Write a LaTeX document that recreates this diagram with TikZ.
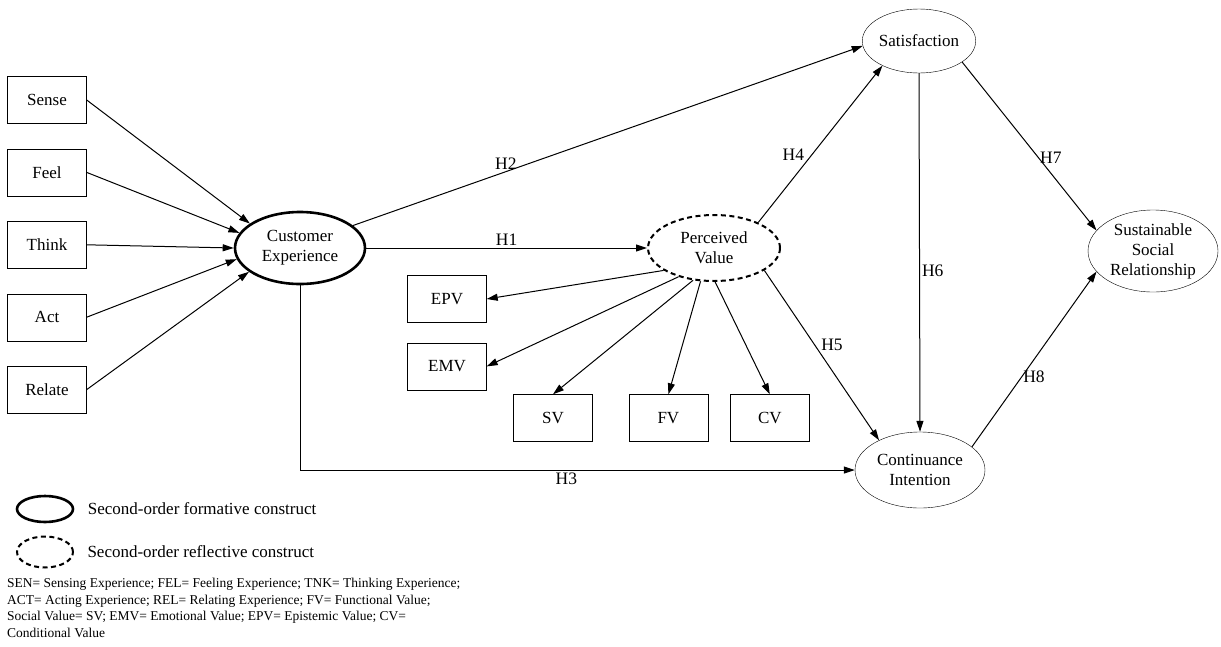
\documentclass[tikz,border=0pt]{standalone}
\usepackage{fontspec}
\setmainfont{Liberation Serif}
\usetikzlibrary{shapes.geometric, arrows.meta, positioning}

\begin{document}
\begin{tikzpicture}[
    x=1pt, y=-1pt,
    node distance=25pt,
    box/.style={rectangle, draw, minimum width=79pt, minimum height=47pt, inner sep=0pt, font=\fontsize{17}{20}\selectfont},
    latent/.style={ellipse, draw, inner sep=0pt, align=center, font=\fontsize{17}{20}\selectfont},
    formative/.style={latent, line width=2.6pt},
    reflective/.style={latent, line width=2pt, dash pattern=on 5pt off 3.5pt},
    arrow/.style={-{Triangle[length=11pt,width=7pt]}, line width=1pt},
    hyp/.style={font=\fontsize{17.5}{20}\selectfont, inner sep=2pt}
  ]
  \useasboundingbox (0,0) rectangle (1221,646);

  % experience dimensions
  \node[box] (sense) at (47,100) {Sense};
  \node[box, below=of sense] (feel) {Feel};
  \node[box, below=of feel] (think) {Think};
  \node[box, below=of think] (act) {Act};
  \node[box, below=of act] (relate) {Relate};

  % constructs
  \node[formative, minimum width=130pt, minimum height=72pt] (ce) at (300,248) {Customer\\Experience};
  \node[reflective, minimum width=132pt, minimum height=66pt] (pv) at (714,248) {Perceived\\Value};
  \node[latent, minimum width=112pt, minimum height=64pt] (sat) at (919,41) {Satisfaction};
  \node[latent, minimum width=130pt, minimum height=76pt] (ci) at (920,470) {Continuance\\Intention};
  \node[latent, minimum width=130pt, minimum height=82pt] (ssr) at (1153,251) {Sustainable\\Social\\Relationship};

  % value dimensions
  \node[box] (epv) at (447,299) {EPV};
  \node[box, below=20pt of epv] (emv) {EMV};
  \node[box] (sv) at (553,418) {SV};
  \node[box, right=36pt of sv] (fv) {FV};
  \node[box, right=22pt of fv] (cv) {CV};

  \draw[arrow] (sense.east) -- (ce.154);
  \draw[arrow] (feel.east) -- (ce.166);
  \draw[arrow] (think.east) -- (ce.180);
  \draw[arrow] (act.east) -- (ce.190);
  \draw[arrow] (relate.east) -- (ce.205);

  \draw[arrow] (pv.204) -- (epv.east);
  \draw[arrow] (pv.219) -- (emv.east);
  \draw[arrow] (pv.237) -- (sv.north);
  \draw[arrow] (pv.248) -- (fv.north);
  \draw[arrow] (pv.272) -- (cv.north);

  % hypotheses
  \draw[arrow] (ce.east) -- node[hyp, above] {H1} (pv.west);
  \draw[arrow] (ce.23) -- node[hyp, pos=0.3, above] {H2} (sat.185);
  \draw[arrow] (ce.south) |- node[hyp, pos=0.74, below] {H3} (ci.west);
  \draw[arrow] (pv.30) -- node[hyp, pos=0.43, left=5pt] {H4} (sat.214);
  \draw[arrow] (pv.336) -- node[hyp, pos=0.44, right=4pt] {H5} (ci.144);
  \draw[arrow] (sat.south) -- node[hyp, pos=0.55, right] {H6} (ci.north);
  \draw[arrow] (sat.334) -- node[hyp, pos=0.57, right=-1pt] {H7} (ssr.160);
  \draw[arrow] (ci.24) -- node[hyp, pos=0.4, right=-1pt] {H8} (ssr.200);

  % legend
  \node[formative, minimum width=56pt, minimum height=26pt] (keyf) at (45,509) {};
  \node[right=10pt of keyf, font=\fontsize{17}{20}\selectfont] (keyftext) {Second-order formative construct};
  \node[reflective, minimum width=56pt, minimum height=31pt] (keyr) at (45,552) {};
  \node[right=10pt of keyr, font=\fontsize{17}{20}\selectfont] (keyrtext) {Second-order reflective construct};
  \node[anchor=north west, align=left, inner sep=0pt, font=\fontsize{13.5}{16.7}\selectfont] (notes) at (7,578)
    {SEN= Sensing Experience; FEL= Feeling Experience; TNK= Thinking Experience;\\
     ACT= Acting Experience; REL= Relating Experience; FV= Functional Value;\\
     Social Value= SV; EMV= Emotional Value; EPV= Epistemic Value; CV=\\
     Conditional Value};
\end{tikzpicture}
\end{document}
